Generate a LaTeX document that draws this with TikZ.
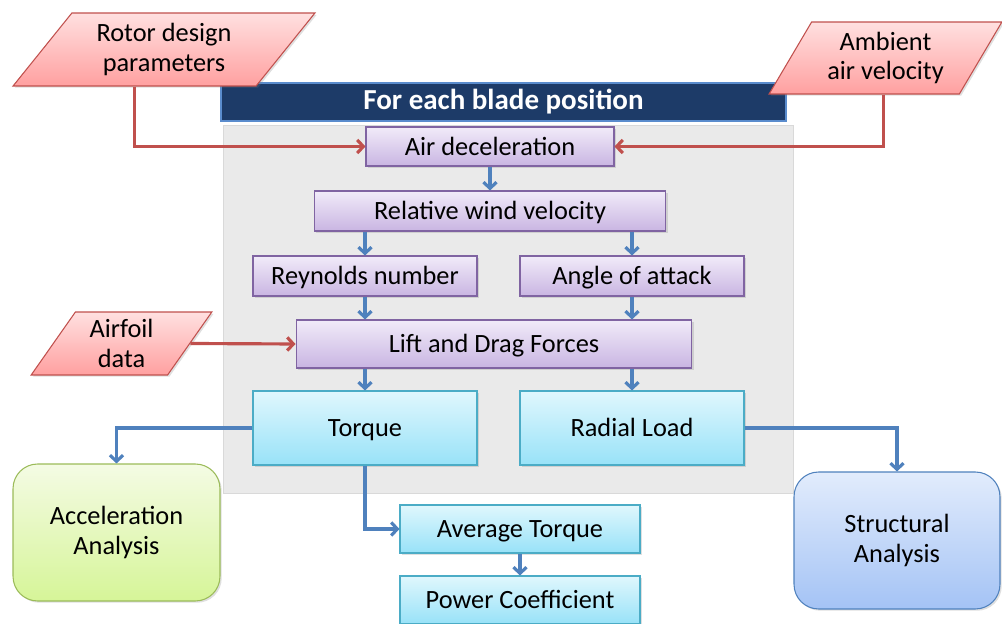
\documentclass[tikz,border=0pt]{standalone}
\usepackage{fontspec}
\setmainfont{Carlito}
\usetikzlibrary{arrows.meta,shapes.geometric,shadows,calc}

\definecolor{navy}{RGB}{29,59,104}
\definecolor{navyline}{RGB}{90,140,205}
\definecolor{panelgray}{RGB}{234,234,234}
\definecolor{pinktop}{RGB}{255,224,224}
\definecolor{pinkbot}{RGB}{255,160,160}
\definecolor{redline}{RGB}{192,80,77}
\definecolor{purpletop}{RGB}{241,235,249}
\definecolor{purplebot}{RGB}{201,181,226}
\definecolor{purpleline}{RGB}{128,100,162}
\definecolor{cyantop}{RGB}{224,247,253}
\definecolor{cyanbot}{RGB}{152,226,248}
\definecolor{cyanline}{RGB}{75,172,198}
\definecolor{greentop}{RGB}{244,251,228}
\definecolor{greenbot}{RGB}{214,245,152}
\definecolor{greenline}{RGB}{155,187,89}
\definecolor{bluetop}{RGB}{226,236,252}
\definecolor{bluebot}{RGB}{164,195,245}
\definecolor{blueline}{RGB}{79,129,189}

\begin{document}
\begin{tikzpicture}[x=0.02cm, y=-0.02cm,
    box/.style={draw, line width=0.6pt, inner sep=0pt, align=center,
        font=\fontsize{15}{17}\selectfont,
        drop shadow={opacity=0.25, shadow xshift=1pt, shadow yshift=-1pt}},
    inputbox/.style={box, trapezium, trapezium stretches=true,
        draw=redline, top color=pinktop, bottom color=pinkbot},
    stepbox/.style={box, draw=purpleline, top color=purpletop, bottom color=purplebot,
        minimum height=0.8cm, text height=11pt, text depth=1pt},
    resultbox/.style={box, draw=cyanline, top color=cyantop, bottom color=cyanbot,
        minimum width=4.48cm, text height=11pt, text depth=1pt},
    redarrow/.style={draw=redline, line width=1.8pt, -{Straight Barb[length=3.5pt,width=7.5pt]}},
    bluearrow/.style={draw=blueline, line width=1.8pt, -{Straight Barb[length=3.5pt,width=7.5pt]}}]
    \useasboundingbox (0,0) rectangle (1002,624);

    % Loop panel and its header
    \node[fill=panelgray, draw=white!85!black, line width=0.5pt,
        minimum width=11.4cm, minimum height=7.36cm] (panel) at (508,309) {};
    \node[fill=navy, draw=navyline, line width=0.8pt, minimum width=11.3cm, minimum height=0.76cm,
        text=white, font=\bfseries\fontsize{16.5}{18}\selectfont] (title) at (503.5,102) {For each blade position};

    % Inputs
    \node[inputbox, trapezium left angle=50.6, trapezium right angle=129.4,
        minimum width=6.04cm, minimum height=1.46cm] (rotor) at (164,49.5) {Rotor design\\parameters};
    \node[inputbox, trapezium left angle=57.4, trapezium right angle=122.6,
        minimum width=4.66cm, minimum height=1.44cm] (ambient) at (885.5,58) {Ambient\\air velocity};
    \node[inputbox, trapezium left angle=57.6, trapezium right angle=122.4,
        minimum width=3.62cm, minimum height=1.26cm] (airfoil) at (121.5,343.5) {Airfoil\\data};

    % Steps inside the loop
    \node[stepbox, minimum width=4.96cm, minimum height=0.78cm] (airdec) at (490,146.5) {Air deceleration};
    \node[stepbox, minimum width=7.04cm] (relwind) at (490,211) {Relative wind velocity};
    \node[stepbox, minimum width=4.48cm] (reynolds) at (365,276) {Reynolds number};
    \node[stepbox, minimum width=4.48cm] (attack) at (632,276) {Angle of attack};
    \node[stepbox, minimum width=7.92cm, minimum height=0.96cm] (lift) at (494,344) {Lift and Drag Forces};
    \node[resultbox, minimum height=1.48cm] (torque) at (365,428) {Torque};
    \node[resultbox, minimum height=1.48cm] (radial) at (632,428) {Radial Load};

    % Outputs
    \node[box, rounded corners=14pt, draw=greenline, top color=greentop, bottom color=greenbot,
        minimum width=4.14cm, minimum height=2.74cm] (accel) at (116.5,532.5) {Acceleration\\Analysis};
    \node[box, rounded corners=14pt, draw=blueline, top color=bluetop, bottom color=bluebot,
        minimum width=4.12cm, minimum height=2.74cm] (struct) at (897,540.5) {Structural\\Analysis};
    \node[resultbox, minimum width=4.8cm, minimum height=0.96cm] (avgtorque) at (520,529) {Average Torque};
    \node[resultbox, minimum width=4.8cm, minimum height=0.96cm] (power) at (520,600) {Power Coefficient};

    % Input arrows
    \draw[redarrow] ($(rotor.bottom left corner)!0.5!(rotor.bottom right corner)$) |- (airdec.west);
    \draw[redarrow] ($(ambient.bottom left corner)!0.6!(ambient.bottom right corner)$) |- (airdec.east);
    \draw[redarrow] (airfoil.east) -- (lift.west);

    % Flow
    \draw[bluearrow] (airdec) -- (relwind);
    \draw[bluearrow] (reynolds.north |- relwind.south) -- (reynolds.north);
    \draw[bluearrow] (attack.north |- relwind.south) -- (attack.north);
    \draw[bluearrow] (reynolds.south) -- (reynolds.south |- lift.north);
    \draw[bluearrow] (attack.south) -- (attack.south |- lift.north);
    \draw[bluearrow] (torque.north |- lift.south) -- (torque.north);
    \draw[bluearrow] (radial.north |- lift.south) -- (radial.north);
    \draw[bluearrow] (torque.west) -| (accel.north);
    \draw[bluearrow] (radial.east) -| (struct.north);
    \draw[bluearrow] (torque.south) |- (avgtorque.west);
    \draw[bluearrow] (avgtorque) -- (power);
\end{tikzpicture}
\end{document}
